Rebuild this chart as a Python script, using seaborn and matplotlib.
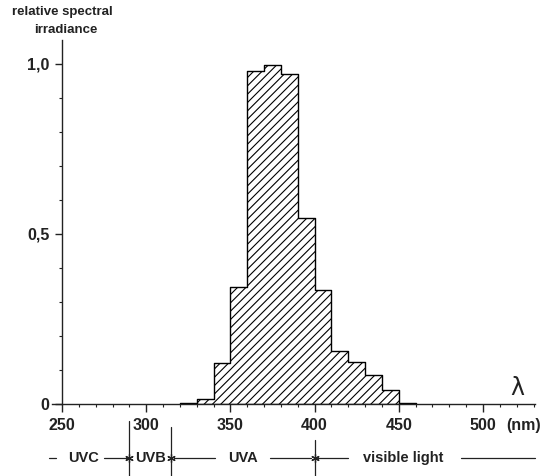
import numpy as np
import matplotlib
matplotlib.use("Agg")
import matplotlib.pyplot as plt
from matplotlib.ticker import MultipleLocator, FixedLocator
import seaborn as sns

# left edges of the 10 nm bins and their relative spectral irradiance
bin_left = [320, 330, 340, 350, 360, 370, 380, 390, 400, 410, 420, 430, 440, 450]
irradiance = [0.004, 0.015, 0.12, 0.345, 0.98, 0.997, 0.97, 0.548, 0.335,
              0.157, 0.124, 0.085, 0.04, 0.004]
bin_width = 10

x_ticks = [250, 300, 350, 400, 450, 500]
y_ticks = [0, 0.5, 1.0]
y_ticklabels = ["0", "0,5", "1,0"]

# spectral bands under the axis
band_names = ["UVC", "UVB", "UVA", "visible light"]
band_label_x = [263, 302.5, 357.5, 452.5]
band_edges = [290, 315, 400]

sns.set_style("ticks")
plt.rcParams["font.family"] = ["Liberation Sans", "DejaVu Sans"]
plt.rcParams["hatch.linewidth"] = 0.8
plt.rcParams["hatch.color"] = "#505050"
ink = "#222222"

fig = plt.figure(figsize=(5.52, 4.76), dpi=100)
ax = fig.add_axes([51.9 / 552, 72 / 476, 483.3 / 552, 364 / 476])

edges = bin_left + [bin_left[-1] + bin_width]
centers = np.array(bin_left) + bin_width / 2
sns.histplot(x=centers, weights=irradiance, bins=edges, element="step",
             fill=True, facecolor="white", edgecolor="black", linewidth=1.0,
             hatch="////", ax=ax)

ax.set_xlim(244, 531)
ax.set_ylim(0, 1.07)
ax.set_xlabel("")
ax.set_ylabel("")

# axes drawn through the origin (250 nm, 0)
for side in ["top", "right"]:
    ax.spines[side].set_visible(False)
ax.spines["left"].set_position(("data", 250))
ax.spines["left"].set_color(ink)
ax.spines["bottom"].set_color(ink)
ax.spines["left"].set_linewidth(1.0)
ax.spines["bottom"].set_linewidth(1.0)

ax.xaxis.set_major_locator(FixedLocator(x_ticks))
ax.xaxis.set_minor_locator(FixedLocator(np.arange(250, 531, 10)))
ax.yaxis.set_major_locator(FixedLocator(y_ticks))
ax.yaxis.set_minor_locator(MultipleLocator(0.1))
ax.set_yticklabels(y_ticklabels)
ax.tick_params(axis="x", which="major", direction="out", length=6, width=1,
               color=ink, pad=4, labelsize=11.5, labelcolor=ink)
ax.tick_params(axis="x", which="minor", direction="out", length=2.5, width=0.8,
               color=ink)
ax.tick_params(axis="y", which="major", direction="out", length=5, width=1,
               color=ink, pad=4, labelsize=11.5, labelcolor=ink)
ax.tick_params(axis="y", which="minor", direction="out", length=2, width=0.8,
               color=ink)
for lab in ax.get_xticklabels() + ax.get_yticklabels():
    lab.set_fontweight("bold")

ax.text(524, -0.062, "(nm)", ha="center", va="center", fontsize=11.5,
        fontweight="bold", color=ink, clip_on=False)
ax.text(520.5, 0.047, "λ", ha="center", va="center", fontsize=17,
        family="DejaVu Sans", color=ink)

ax.text(250, 1.153, "relative spectral", ha="center", va="center",
        fontsize=9.5, fontweight="bold", color=ink, clip_on=False)
ax.text(252.5, 1.1, "irradiance", ha="center", va="center",
        fontsize=9.5, fontweight="bold", color=ink, clip_on=False)

# band row
row_y = -0.159
for name, xc in zip(band_names, band_label_x):
    ax.text(xc, row_y, name, ha="center", va="center", fontsize=10.5,
            fontweight="bold", color=ink, clip_on=False)
row_segments = [(242, 246.6), (275, 289.5), (316.5, 341), (373.5, 398),
                (401.4, 420), (487, 531)]
for x0, x1 in row_segments:
    ax.plot([x0, x1], [row_y, row_y], color=ink, lw=0.9, clip_on=False)
ax.plot(band_edges, [row_y] * len(band_edges), ls="none", marker=(6, 2, 0),
        ms=6, mew=0.9, color=ink, clip_on=False)
edge_tops = [-0.05, -0.068, -0.106]
for xe, yt in zip(band_edges, edge_tops):
    ax.plot([xe, xe], [yt, -0.22], color=ink, lw=0.9, clip_on=False)

fig.savefig("out.png", dpi=100)
